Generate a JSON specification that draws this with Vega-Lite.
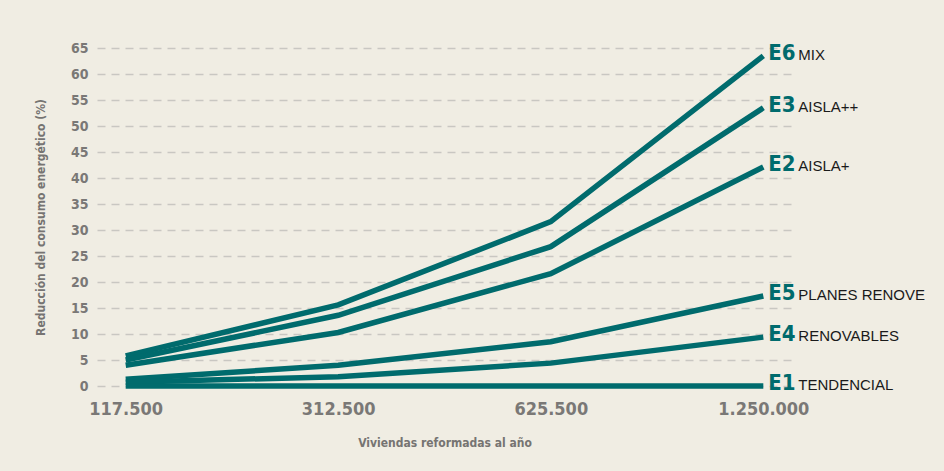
{
  "$schema": "https://vega.github.io/schema/vega-lite/v6.json",
  "autosize": {"type": "none"},
  "width": 695,
  "height": 338,
  "padding": {"left": 97, "top": 48, "right": 152, "bottom": 85},
  "background": "#f0ede3",
  "config": {"view": {"stroke": null}},
  "data": {
    "values": [
      {"code": "E6", "name": "MIX", "viv": "117.500", "v": 5.8},
      {"code": "E6", "name": "MIX", "viv": "312.500", "v": 15.6},
      {"code": "E6", "name": "MIX", "viv": "625.500", "v": 31.6},
      {"code": "E6", "name": "MIX", "viv": "1.250.000", "v": 63.5},
      {"code": "E3", "name": "AISLA++", "viv": "117.500", "v": 5.0},
      {"code": "E3", "name": "AISLA++", "viv": "312.500", "v": 13.6},
      {"code": "E3", "name": "AISLA++", "viv": "625.500", "v": 26.8},
      {"code": "E3", "name": "AISLA++", "viv": "1.250.000", "v": 53.5},
      {"code": "E2", "name": "AISLA+", "viv": "117.500", "v": 4.0},
      {"code": "E2", "name": "AISLA+", "viv": "312.500", "v": 10.3},
      {"code": "E2", "name": "AISLA+", "viv": "625.500", "v": 21.6},
      {"code": "E2", "name": "AISLA+", "viv": "1.250.000", "v": 42.1},
      {"code": "E5", "name": "PLANES RENOVE", "viv": "117.500", "v": 1.3},
      {"code": "E5", "name": "PLANES RENOVE", "viv": "312.500", "v": 4.0},
      {"code": "E5", "name": "PLANES RENOVE", "viv": "625.500", "v": 8.5},
      {"code": "E5", "name": "PLANES RENOVE", "viv": "1.250.000", "v": 17.3},
      {"code": "E4", "name": "RENOVABLES", "viv": "117.500", "v": 0.7},
      {"code": "E4", "name": "RENOVABLES", "viv": "312.500", "v": 1.8},
      {"code": "E4", "name": "RENOVABLES", "viv": "625.500", "v": 4.4},
      {"code": "E4", "name": "RENOVABLES", "viv": "1.250.000", "v": 9.4},
      {"code": "E1", "name": "TENDENCIAL", "viv": "117.500", "v": 0},
      {"code": "E1", "name": "TENDENCIAL", "viv": "312.500", "v": 0},
      {"code": "E1", "name": "TENDENCIAL", "viv": "625.500", "v": 0},
      {"code": "E1", "name": "TENDENCIAL", "viv": "1.250.000", "v": 0}
    ]
  },
  "encoding": {
    "x": {
      "field": "viv",
      "type": "ordinal",
      "sort": ["117.500", "312.500", "625.500", "1.250.000"],
      "scale": {"type": "point", "padding": 0.135},
      "axis": {
        "title": "Viviendas reformadas al año",
        "labelAngle": 0,
        "labelFont": "DejaVu Sans Condensed, Liberation Sans, sans-serif",
        "labelFontWeight": "bold",
        "labelFontSize": 18,
        "labelColor": "#7a7876",
        "labelPadding": 14,
        "ticks": false,
        "domain": false,
        "grid": false,
        "titleFont": "DejaVu Sans Condensed, Liberation Sans, sans-serif",
        "titleFontWeight": "bold",
        "titleFontSize": 12,
        "titleColor": "#767472",
        "titleY": 51,
        "titleBaseline": "top"
      }
    },
    "y": {
      "field": "v",
      "type": "quantitative",
      "scale": {"domain": [0, 65], "nice": false},
      "axis": {
        "title": "Reducción del consumo energético (%)",
        "values": [0, 5, 10, 15, 20, 25, 30, 35, 40, 45, 50, 55, 60, 65],
        "labelFont": "DejaVu Sans Condensed, Liberation Sans, sans-serif",
        "labelFontWeight": "bold",
        "labelFontSize": 14,
        "labelColor": "#7a7876",
        "labelPadding": 9,
        "ticks": false,
        "domain": false,
        "grid": true,
        "gridColor": "#c9c7c2",
        "gridDash": [8, 6],
        "gridWidth": 1.5,
        "titleFont": "DejaVu Sans Condensed, Liberation Sans, sans-serif",
        "titleFontWeight": "bold",
        "titleFontSize": 12,
        "titleColor": "#767472",
        "titleX": -57,
        "titleBaseline": "middle"
      }
    }
  },
  "layer": [
    {
      "mark": {"type": "line", "color": "#006b6d", "strokeWidth": 5.5, "strokeCap": "butt", "strokeJoin": "miter"},
      "encoding": {"detail": {"field": "code"}}
    },
    {
      "transform": [{"filter": "datum.viv == '1.250.000'"}],
      "mark": {"type": "text", "align": "left", "baseline": "alphabetic", "dx": 5, "dy": 4, "font": "DejaVu Sans Condensed, Liberation Sans, sans-serif", "fontWeight": "bold", "fontSize": 22, "color": "#006b6d"},
      "encoding": {"text": {"field": "code"}}
    },
    {
      "transform": [{"filter": "datum.viv == '1.250.000'"}],
      "mark": {"type": "text", "align": "left", "baseline": "alphabetic", "dx": 35, "dy": 4, "font": "Liberation Sans", "fontSize": 15, "color": "#1a1a1a"},
      "encoding": {"text": {"field": "name"}}
    }
  ]
}
